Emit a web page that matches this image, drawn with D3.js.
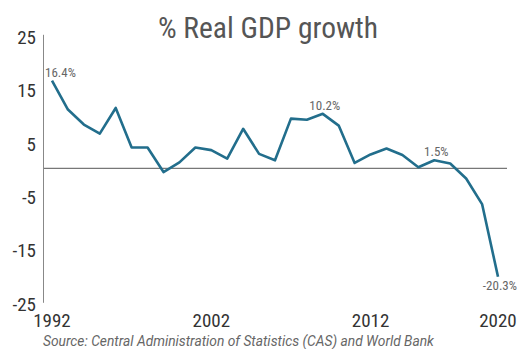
<!DOCTYPE html>
<html>
<head>
<meta charset="utf-8">
<script src="https://cdn.jsdelivr.net/npm/d3@7"></script>
<style>
  html, body { margin: 0; padding: 0; background: #fff; }
  svg { display: block; }
  .cond { font-family: "Roboto Condensed", "Liberation Sans Narrow", "Arial Narrow", sans-serif; }
</style>
</head>
<body>
<svg id="chart" width="523" height="349"></svg>
<script>
// Annual real GDP growth, percent
const years = d3.range(1992, 2021);
const growth = [16.4, 11.0, 8.2, 6.5, 11.3, 3.9, 3.9, -0.7, 1.1, 3.9,
                3.4, 1.8, 7.4, 2.7, 1.5, 9.3, 9.1, 10.2, 8.0, 1.0,
                2.6, 3.7, 2.5, 0.2, 1.5, 0.9, -1.9, -6.7, -20.3];
const yTicks = [25, 15, 5, -5, -15, -25];
const xTicks = [1992, 2002, 2012, 2020];
const labelled = [1992, 2009, 2016, 2020];

const data = years.map((y, i) => ({ year: y, value: growth[i] }));

const svg = d3.select("#chart");
const x = d3.scaleLinear().domain([1992, 2020]).range([52, 498]);
const y = d3.scaleLinear().domain([-25, 25]).range([301.8, 34.8]);

// title
svg.append("text")
  .attr("class", "cond")
  .attr("x", 268).attr("y", 38)
  .attr("text-anchor", "middle")
  .attr("font-size", 29.5)
  .attr("fill", "#555")
  .text("% Real GDP growth");

// vertical axis line
svg.append("line")
  .attr("x1", 43.5).attr("x2", 43.5)
  .attr("y1", y(25)).attr("y2", y(-25) + 1)
  .attr("stroke", "#888").attr("stroke-width", 1);

// y tick labels
svg.append("g").selectAll("text").data(yTicks).join("text")
  .attr("class", "cond")
  .attr("x", 36).attr("y", d => y(d) + 9)
  .attr("text-anchor", "end")
  .attr("font-size", 19)
  .attr("fill", "#333")
  .text(d => d);

// x tick labels
svg.append("g").selectAll("text").data(xTicks).join("text")
  .attr("class", "cond")
  .attr("x", d => x(d)).attr("y", 327)
  .attr("text-anchor", "middle")
  .attr("font-size", 19)
  .attr("fill", "#333")
  .text(d => d);

// zero line
svg.append("line")
  .attr("x1", 44).attr("x2", 507)
  .attr("y1", y(0)).attr("y2", y(0))
  .attr("stroke", "#555").attr("stroke-width", 1);

// growth line
const line = d3.line().x(d => x(d.year)).y(d => y(d.value));
svg.append("path")
  .datum(data)
  .attr("d", line)
  .attr("fill", "none")
  .attr("stroke", "#226e8c")
  .attr("stroke-width", 2.6)
  .attr("stroke-linejoin", "round");

// value labels
const lab = data.filter(d => labelled.includes(d.year));
svg.append("g").selectAll("text").data(lab).join("text")
  .attr("class", "cond")
  .attr("x", d => d.year === 1992 ? x(d.year) - 7 : (d.year === 2020 ? x(d.year) + 19 : x(d.year) + 2))
  .attr("y", d => d.value < 0 ? y(d.value) + 13.5 : y(d.value) - 4)
  .attr("text-anchor", d => d.year === 1992 ? "start" : (d.year === 2020 ? "end" : "middle"))
  .attr("font-size", 13)
  .attr("fill", "#666")
  .text(d => d.value.toFixed(1) + "%");

// source note
svg.append("text")
  .attr("x", 43).attr("y", 346)
  .attr("font-family", "Roboto, sans-serif")
  .attr("font-style", "italic")
  .attr("font-size", 13.8)
  .attr("fill", "#666")
  .text("Source: Central Administration of Statistics (CAS) and World Bank");
</script>
</body>
</html>
